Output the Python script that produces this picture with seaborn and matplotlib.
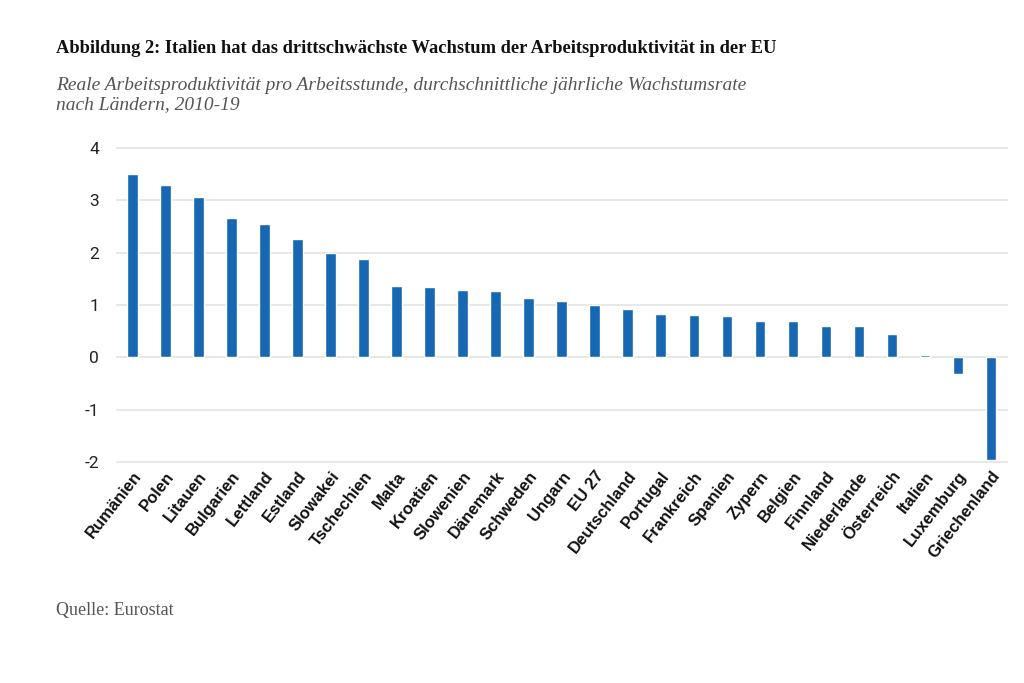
import matplotlib
matplotlib.use("Agg")
import matplotlib.pyplot as plt
import seaborn as sns
import pandas as pd

# Daten
countries = ["Rumänien", "Polen", "Litauen", "Bulgarien", "Lettland", "Estland",
             "Slowakei", "Tschechien", "Malta", "Kroatien", "Slowenien", "Dänemark",
             "Schweden", "Ungarn", "EU 27", "Deutschland", "Portugal", "Frankreich",
             "Spanien", "Zypern", "Belgien", "Finnland", "Niederlande", "Österreich",
             "Italien", "Luxemburg", "Griechenland"]
growth = [3.5, 3.3, 3.07, 2.67, 2.55, 2.26, 2.0, 1.87, 1.36, 1.35, 1.29, 1.26,
          1.14, 1.07, 0.99, 0.93, 0.82, 0.80, 0.78, 0.70, 0.70, 0.59, 0.59, 0.44,
          0.04, -0.32, -1.97]
yticks = [-2, -1, 0, 1, 2, 3, 4]

title = "Abbildung 2: Italien hat das drittschwächste Wachstum der Arbeitsproduktivität in der EU"
subtitle = "Reale Arbeitsproduktivität pro Arbeitsstunde, durchschnittliche jährliche Wachstumsrate\nnach Ländern, 2010-19"
source = "Quelle: Eurostat"

df = pd.DataFrame({"land": countries, "wert": growth})

sns.set_theme(style="white")
fig = plt.figure(figsize=(10.24, 6.83), dpi=100)
ax = fig.add_axes([0.113, 0.322, 0.871, 0.463])

sns.barplot(data=df, x="land", y="wert", color="#1767b3", saturation=1,
            width=0.32, ax=ax)

ax.set_ylim(-2.02, 4.02)
ax.set_xlim(-0.5, len(countries) - 0.5)
ax.set_yticks(yticks)
ax.set_yticklabels([str(t) for t in yticks], fontsize=12.5, color="#222222",
                   family="Roboto")
ax.yaxis.grid(True, color="#e3e3e3", linewidth=1.2)
ax.set_axisbelow(True)
ax.tick_params(axis="y", length=0, pad=12)
ax.tick_params(axis="x", length=0, pad=4)
for s in ax.spines.values():
    s.set_visible(False)
ax.set_xlabel("")
ax.set_ylabel("")
ax.set_xticks(range(len(countries)))
ax.set_xticklabels(countries, rotation=52, ha="right", rotation_mode="anchor",
                   fontsize=12, fontweight="bold", family="Liberation Sans",
                   color="#111111")

fig.text(0.055, 0.923, title, fontsize=13.3, fontweight="bold",
         family="Liberation Serif", color="#111111")
fig.text(0.055, 0.84, subtitle, fontsize=14, fontstyle="italic",
         family="Liberation Serif", color="#555555", linespacing=1.2)
fig.text(0.055, 0.1, source, fontsize=13, family="Liberation Serif",
         color="#555555")

fig.savefig("out.png", dpi=100)
